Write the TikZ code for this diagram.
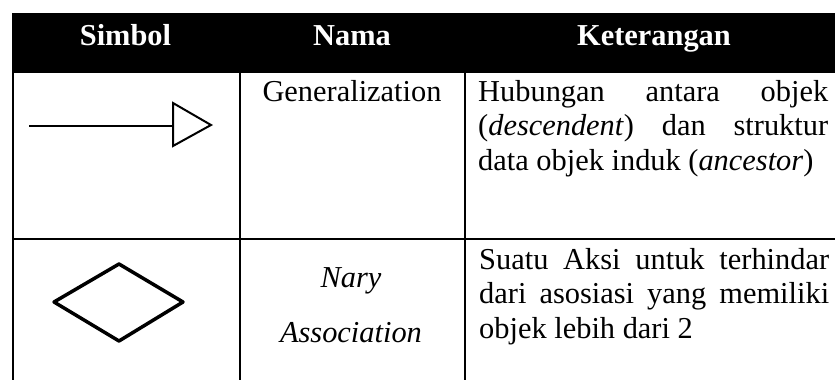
\documentclass[tikz,border=0pt]{standalone}
\usepackage{fontspec}
\setmainfont{Liberation Serif}
\newcommand\jline[1]{\hbox to 350pt{#1}}
\tikzset{
  gridline/.style={line width=2pt, black},
  hdr/.style={text=white, font=\fontsize{30.4}{34.5}\selectfont\bfseries, anchor=base, inner sep=0pt},
  cell/.style={font=\fontsize{30.4}{34.5}\selectfont, anchor=base west, inner sep=0pt},
  ccell/.style={font=\fontsize{30.4}{34.5}\selectfont, anchor=base, inner sep=0pt},
  thinline/.style={line width=1.2pt},
  triline/.style={line width=2pt, line join=miter},
  diamline/.style={line width=3.5pt, line join=round}
}
\begin{document}
\begin{tikzpicture}[x=1pt,y=-1pt]
\useasboundingbox (0,0) rectangle (835,380);
% header
\fill[black] (12,13) rectangle (835,73);
\node[hdr] (h1) at (125.5,45) {Simbol};
\node[hdr] (h2) at (352,45) {Nama};
\node[hdr] (h3) at (654,45) {Keterangan};
% grid
\draw[gridline] (13,72) -- (13,380);
\draw[gridline] (240,72) -- (240,380);
\draw[gridline] (465,72) -- (465,380);
\draw[gridline] (12,239) -- (835,239);
% row 1
\coordinate (gstart) at (29,126);
\coordinate (gback) at (173,126);
\draw[thinline] (gstart) -- (gback);
\draw[triline] (173,103) -- (211,125) -- (173,146) -- cycle;
\node[ccell] (n1) at (352,101) {Generalization};
\node[cell] (k1a) at (478,101) {\jline{Hubungan antara objek}};
\node[cell] (k1b) at (478,135.5) {\jline{(\textit{descendent}) dan struktur}};
\node[cell] (k1c) at (478,170) {data objek induk (\textit{ancestor})};
% row 2
\draw[diamline] (54,302) -- (119,264) -- (183,302) -- (119,341) -- cycle;
\node[ccell] (n2a) at (351,287) {\textit{Nary}};
\node[ccell] (n2b) at (351,342) {\textit{Association}};
\node[cell] (k2a) at (479,269) {\jline{Suatu Aksi untuk terhindar}};
\node[cell] (k2b) at (479,303.5) {\jline{dari asosiasi yang memiliki}};
\node[cell] (k2c) at (479,338) {objek lebih dari 2};
\end{tikzpicture}
\end{document}
